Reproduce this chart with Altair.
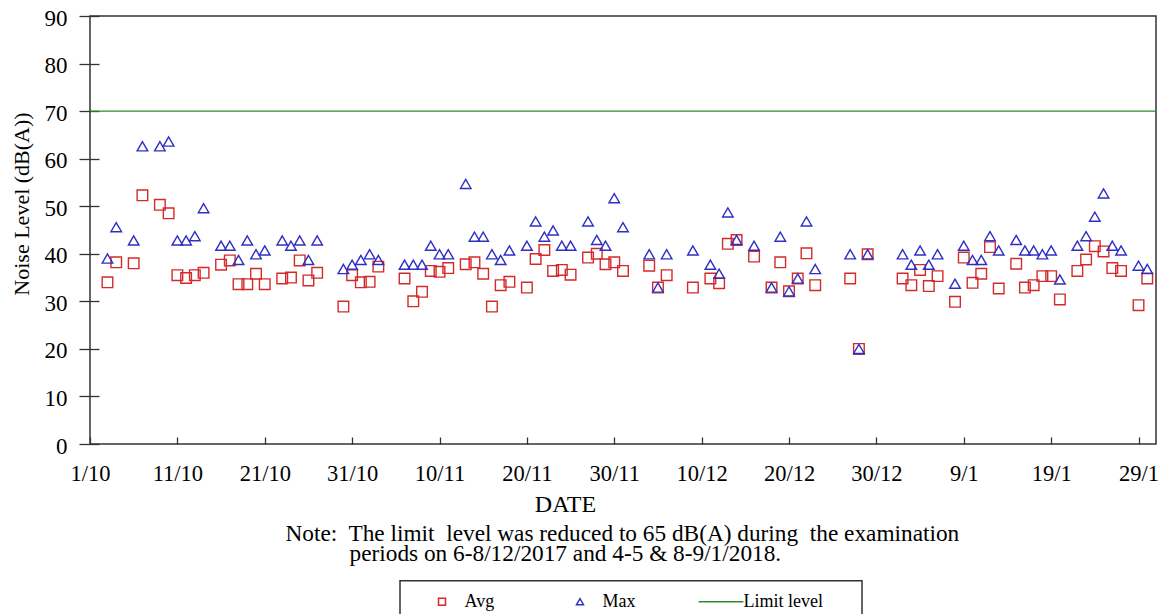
import altair as alt
import pandas as pd

# ---------------- data ----------------
dates = [
    "2017-10-03", "2017-10-04", "2017-10-06", "2017-10-07", "2017-10-09", "2017-10-10",
    "2017-10-11", "2017-10-12", "2017-10-13", "2017-10-14", "2017-10-16", "2017-10-17",
    "2017-10-18", "2017-10-19", "2017-10-20", "2017-10-21", "2017-10-23", "2017-10-24",
    "2017-10-25", "2017-10-26", "2017-10-27", "2017-10-30", "2017-10-31",
    "2017-11-01", "2017-11-02", "2017-11-03", "2017-11-06", "2017-11-07", "2017-11-08",
    "2017-11-09", "2017-11-10", "2017-11-11", "2017-11-13", "2017-11-14", "2017-11-15",
    "2017-11-16", "2017-11-17", "2017-11-18", "2017-11-20", "2017-11-21", "2017-11-22",
    "2017-11-23", "2017-11-24", "2017-11-25", "2017-11-27", "2017-11-28", "2017-11-29",
    "2017-11-30",
    "2017-12-01", "2017-12-04", "2017-12-05", "2017-12-06", "2017-12-09", "2017-12-11",
    "2017-12-12", "2017-12-13", "2017-12-14", "2017-12-16", "2017-12-18", "2017-12-19",
    "2017-12-20", "2017-12-21", "2017-12-22", "2017-12-23", "2017-12-27", "2017-12-28",
    "2017-12-29",
    "2018-01-02", "2018-01-03", "2018-01-04", "2018-01-05", "2018-01-06", "2018-01-08",
    "2018-01-09", "2018-01-10", "2018-01-11", "2018-01-12", "2018-01-13", "2018-01-15",
    "2018-01-16", "2018-01-17", "2018-01-18", "2018-01-19", "2018-01-20", "2018-01-22",
    "2018-01-23", "2018-01-24", "2018-01-25", "2018-01-26", "2018-01-27", "2018-01-29",
    "2018-01-30",
]

avg_values = [
    34.0, 38.2, 38.0, 52.3, 50.3, 48.5, 35.5, 34.9, 35.5, 36.0, 37.7, 38.6,
    33.6, 33.6, 35.8, 33.6, 34.8, 35.0, 38.6, 34.4, 36.0, 28.9, 35.5,
    34.0, 34.1, 37.3, 34.8, 30.0, 32.0, 36.4, 36.2, 37.0, 37.8, 38.2, 35.8,
    28.9, 33.4, 34.1, 32.9, 38.9, 40.8, 36.4, 36.6, 35.6, 39.2, 40.0, 37.8, 38.2,
    36.4, 37.5, 32.9, 35.5, 32.9, 34.8, 33.8, 42.1, 42.9, 39.4, 32.9, 38.2,
    32.1, 34.8, 40.1, 33.4, 34.8, 20.0, 39.9,
    34.8, 33.4, 36.6, 33.2, 35.3, 29.9, 39.2, 33.9, 35.8, 41.4, 32.7, 37.9,
    32.9, 33.4, 35.3, 35.3, 30.4, 36.4, 38.8, 41.6, 40.5, 37.0, 36.4, 29.2, 34.8,
]

max_values = [
    39.0, 45.6, 42.8, 62.6, 62.6, 63.6, 42.8, 42.8, 43.7, 49.6, 41.7, 41.7,
    38.7, 42.8, 39.9, 40.7, 42.8, 41.7, 42.8, 38.7, 42.8, 36.8, 37.7,
    38.7, 39.9, 38.7, 37.7, 37.7, 37.7, 41.7, 39.9, 39.9, 54.7, 43.6, 43.6,
    39.9, 38.7, 40.7, 41.7, 46.8, 43.6, 44.9, 41.7, 41.7, 46.8, 42.9, 41.7, 51.7,
    45.6, 39.9, 32.9, 39.9, 40.7, 37.7, 35.8, 48.7, 42.9, 41.7, 32.9, 43.6,
    32.1, 34.8, 46.8, 36.8, 39.9, 20.0, 39.9,
    39.9, 37.7, 40.7, 37.7, 39.9, 33.7, 41.7, 38.7, 38.7, 43.7, 40.7, 42.9,
    40.7, 40.7, 39.9, 40.7, 34.6, 41.7, 43.7, 47.8, 52.7, 41.7, 40.7, 37.5, 36.8,
]

series_names = ["Avg", "Max", "Limit level"]
limit_level = [70]
date_span = ["2017-10-01", "2018-01-31"]
x_tick_dates = [
    "2017-10-01", "2017-10-11", "2017-10-21", "2017-10-31", "2017-11-10",
    "2017-11-20", "2017-11-30", "2017-12-10", "2017-12-20", "2017-12-30",
    "2018-01-09", "2018-01-19", "2018-01-29",
]
y_ticks = [0, 10, 20, 30, 40, 50, 60, 70, 80, 90]
y_title = "Noise Level (dB(A))"
x_title = "DATE"
NB = "\u00a0"
ZW = "\u200b"
note_lines = [
    "Note:" + NB + " The limit" + NB + " level was reduced to 65 dB(A) during" + NB + " the examination",
    ZW + NB * 11 + "periods on 6-8/12/2017 and 4-5 & 8-9/1/2018.",
]

# ---------------- styling ----------------
FONT = "Liberation Serif"
RED = "#d42a2a"
BLUE = "#2f2fc4"
GREEN = "#2e8b2e"
FRAME = "#333333"


def ms(s):
    return int(pd.Timestamp(s, tz="UTC").value // 10**6)


points = pd.DataFrame({
    "date": dates * 2,
    "value": avg_values + max_values,
    "series": ["Avg"] * len(avg_values) + ["Max"] * len(max_values),
})
limit_df = pd.DataFrame({
    "start": [date_span[0]],
    "end": [date_span[1]],
    "value": limit_level,
})

x_scale = alt.Scale(type="utc", domain=[ms(date_span[0]), ms(date_span[1])])
y_scale = alt.Scale(domain=[y_ticks[0], y_ticks[-1]], nice=False, zero=True)

y_axis = alt.Axis(
    values=y_ticks, title=y_title, offset=-9, tickSize=20, tickWidth=1.3,
    labelPadding=12, labelFontSize=23, labelOffset=2, titleFontSize=22, titleFontWeight="normal",
    titleAngle=270, titleX=-71, titleY=187.5, titleAlign="center",
    titleBaseline="alphabetic", domain=False, grid=False,
)

x_axis_main = alt.Axis(
    values=[ms(d) for d in x_tick_dates], format="%-d/%-m", orient="bottom",
    offset=-7, tickSize=7, tickWidth=1.3, labelPadding=18, labelFontSize=22.5,
    labelFlush=False, labelOverlap=False, labelBound=False,
    title=x_title, titleFontSize=24, titleFontWeight="normal",
    titleX=475, titleY=74, titleAlign="center", titleBaseline="alphabetic",
    domain=False, grid=False,
)

x_axis_note = alt.Axis(
    orient="bottom", labels=False, ticks=False, domain=False, grid=False,
    title=note_lines, titleFontSize=23.3, titleFontWeight="normal",
    titleX=195, titleY=96, titleAlign="left", titleBaseline="alphabetic",
    titleLineHeight=20.5,
)

legend = alt.Legend(
    title=None, orient="none", legendX=310, legendY=564.7, direction="horizontal",
    columns=3, symbolSize=49, symbolStrokeWidth=1.5, labelFontSize=18,
    labelOffset=13.5, columnPadding=55, padding=12, symbolOffset=21,
    strokeColor=FRAME, labelFont=FONT, labelColor="black",
    labelExpr="datum.label == 'Limit level' ? 'Limit level\u2003\u2002\u200b' : datum.label",
)

pts = alt.Chart(points).mark_point(filled=False, size=112, strokeWidth=1.4, opacity=1).encode(
    x=alt.X("date:T", scale=x_scale, axis=x_axis_main),
    y=alt.Y("value:Q", scale=y_scale, axis=y_axis),
    color=alt.Color("series:N", scale=alt.Scale(domain=series_names, range=[RED, BLUE, GREEN]), legend=legend),
    shape=alt.Shape("series:N", scale=alt.Scale(domain=series_names, range=["square", "triangle-up", "M-6.4,0H6.4"]), legend=legend),
)

rule = alt.Chart(limit_df).mark_rule(color=GREEN, strokeWidth=1.2).encode(
    x=alt.X("start:T", scale=x_scale, axis=x_axis_note),
    x2="end:T",
    y=alt.Y("value:Q", scale=y_scale, axis=y_axis),
)

chart = (
    alt.layer(rule, pts)
    .resolve_axis(x="independent")
    .properties(
        width=1066, height=428,
        autosize=alt.AutoSizeParams(type="none"),
        padding={"left": 82, "top": 8, "right": 3, "bottom": 170},
        background="white",
    )
    .configure(font=FONT)
    .configure_view(stroke=FRAME, strokeWidth=1.5)
    .configure_axis(labelFont=FONT, titleFont=FONT, labelColor="black", titleColor="black", tickColor=FRAME)
    .configure_legend(strokeWidth=1.5)
)

chart.save("out.html", embed_options={"renderer": "svg", "actions": False})
